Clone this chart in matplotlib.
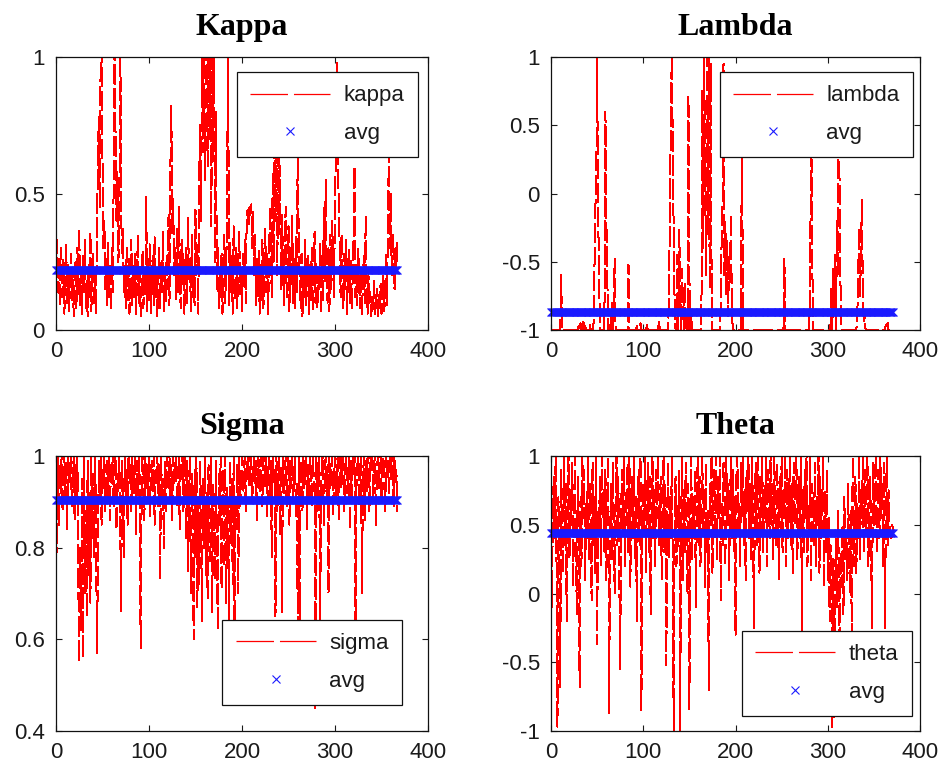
import numpy as np
import matplotlib
matplotlib.use("Agg")
import matplotlib.pyplot as plt

plt.rcParams["font.family"] = ["Liberation Sans", "DejaVu Sans"]
plt.rcParams["lines.scale_dashes"] = False

# Parameter traces, in hundredths of a unit, one value per iteration
kappa = [
    22, 33, 14, 27, 9, 30, 18, 12, 26, 6, 20, 31, 10, 24, 7, 16, 28, 11, 22, 5,
    19, 25, 8, 30, 13, 37, 9, 21, 6, 27, 14, 33, 8, 18, 5, 24, 12, 36, 7, 20,
    28, 10, 22, 6, 35, 60, 78, 45, 100, 120, 62, 30, 40, 15, 26, 9, 32, 12, 24, 7,
    30, 14, 55, 120, 72, 40, 58, 25, 33, 120, 44, 28, 37, 14, 22, 8, 30, 11, 26, 6,
    19, 33, 9, 24, 12, 28, 6, 18, 35, 10, 23, 5, 16, 29, 8, 21, 13, 49, 7, 26,
    11, 32, 6, 20, 27, 9, 34, 12, 22, 5, 18, 30, 8, 25, 14, 36, 7, 21, 10, 28,
    15, 42, 9, 60, 82, 35, 48, 20, 30, 11, 38, 14, 45, 24, 8, 33, 17, 28, 6, 22,
    30, 10, 41, 18, 26, 7, 35, 12, 23, 9, 44, 20, 31, 6, 58, 75, 40, 110, 65, 120,
    55, 95, 120, 60, 105, 70, 120, 38, 110, 62, 120, 25, 80, 15, 30, 8, 22, 12, 28, 6,
    18, 35, 10, 24, 40, 120, 9, 32, 14, 27, 6, 38, 20, 11, 30, 8, 25, 36, 13, 22,
    7, 28, 16, 33, 10, 40, 44, 38, 45, 42, 46, 30, 44, 20, 35, 9, 26, 12, 30, 6,
    24, 11, 33, 8, 19, 37, 14, 28, 6, 22, 45, 30, 12, 58, 25, 80, 40, 65, 20, 85,
    35, 60, 15, 42, 28, 9, 33, 45, 12, 24, 38, 7, 30, 16, 42, 10, 26, 8, 34, 14,
    75, 30, 20, 8, 28, 5, 22, 12, 33, 9, 18, 27, 6, 24, 11, 30, 7, 19, 36, 10,
    25, 8, 20, 14, 32, 6, 27, 11, 45, 18, 55, 24, 10, 30, 7, 35, 15, 40, 22, 12,
    50, 62, 98, 60, 48, 30, 12, 35, 20, 8, 28, 14, 33, 6, 22, 30, 10, 26, 8, 19,
    34, 60, 12, 24, 9, 30, 16, 8, 22, 5, 18, 27, 10, 42, 15, 6, 20, 9, 14, 5,
    12, 7, 18, 6, 10, 15, 5, 13, 8, 17, 6, 11, 20, 7, 14, 28, 9, 45, 65, 30,
    50, 20, 35, 28, 15, 30, 22, 33,
]

lambda_ = [
    -100, -100, -100, -100, -100, -100, -100, -100, -100, -100, -100, -60, -100, -100, -100, -100, -100, -100, -100, -100,
    -100, -100, -100, -100, -100, -100, -100, -100, -100, -100, -97, -100, -95, -100, -100, -93, -100, -97, -100, -100,
    -100, -100, -96, -100, -100, -100, -98, -60, -10, 0, 100, -15, -50, -100, -100, -100, -100, -100, -80, 60,
    -20, -60, -100, -100, -96, -100, -80, -100, -80, -48, -100, -100, -100, -100, -100, -100, -100, -100, -100, -100,
    -100, -100, -100, -100, -52, -100, -100, -100, -100, -100, -100, -100, -100, -97, -100, -100, -100, -95, -100, -100,
    -100, -100, -100, -100, -96, -100, -100, -100, -100, -100, -100, -100, -100, -100, -100, -100, -100, -94, -100, -100,
    -100, -100, -100, -100, -100, -100, -100, -100, -60, -20, 70, 100, 35, -30, -80, -100, -100, -45, -100, -27,
    -70, -100, -55, -80, -100, -65, -100, -90, -100, 72, -60, -100, -85, -100, -100, -100, -100, -100, -100, -100,
    -100, -100, -100, -100, 75, -40, 100, 20, -60, 100, -30, 100, -70, 95, -50, -100, -100, -100, -100, -100,
    -100, -100, -100, -100, -85, -30, -5, 95, -60, -20, -75, -35, -90, -45, -65, -15, -80, -100, -100, -100,
    -100, -100, -100, -100, -100, -100, -100, 80, -100, -100, -100, -100, -100, -100, -100, -100, -100, -100, -100, -100,
    -100, -100, -100, -100, -100, -100, -100, -100, -100, -100, -100, -100, -100, -100, -100, -100, -100, -100, -100, -100,
    -100, -100, -100, -100, -100, -100, -100, -100, -100, -100, -100, -100, -100, -48, -100, -100, -100, -100, -100, -100,
    -100, -100, -100, -100, -100, -100, -100, -100, -100, -100, -100, -100, -100, -100, -100, -100, -100, -100, -100, -100,
    -100, -55, 60, -30, -100, -100, -100, -100, -100, -100, -100, -100, -100, -100, -100, -100, -100, -100, -100, -100,
    -100, -100, -100, -96, -70, -100, -55, -85, -45, -100, -20, -60, 70, -10, -80, -100, -100, -100, -100, -100,
    -100, -100, -100, -100, -100, -100, -100, -100, -100, -100, -100, -100, -90, -60, -25, -75, -45, -5, -70, -95,
    -85, -100, -100, -100, -100, -100, -100, -100, -100, -100, -100, -100, -100, -100, -100, -100, -100, -100, -100, -100,
    -100, -100, -100, -96, -97, -95, -100, -100, -100, -100, -100, -100,
]

sigma = [
    60, 95, 100, 85, 98, 92, 100, 88, 96, 100, 90, 99, 84, 100, 94, 97, 100, 89, 93, 100,
    86, 98, 91, 100, 72, 55, 80, 62, 95, 56, 100, 70, 88, 65, 99, 74, 92, 68, 100, 82,
    96, 78, 100, 87, 57, 75, 99, 90, 100, 85, 97, 93, 100, 88, 95, 99, 91, 100, 86, 98,
    94, 100, 89, 97, 100, 84, 96, 92, 100, 87, 66, 99, 93, 78, 100, 90, 97, 85, 100, 94,
    98, 88, 100, 92, 96, 100, 83, 99, 91, 100, 95, 58, 89, 100, 97, 86, 100, 93, 98, 90,
    100, 87, 96, 99, 92, 100, 85, 97, 94, 100, 89, 98, 73, 100, 91, 95, 80, 99, 88, 100,
    96, 93, 100, 90, 98, 86, 100, 94, 97, 100, 89, 92, 100, 84, 98, 95, 100, 88, 96, 100,
    82, 99, 75, 93, 100, 70, 96, 88, 60, 97, 78, 100, 67, 91, 72, 99, 85, 64, 95, 80,
    100, 74, 92, 69, 98, 83, 77, 100, 66, 94, 88, 73, 99, 79, 62, 96, 85, 100, 71, 90,
    97, 76, 100, 68, 93, 87, 63, 99, 81, 95, 72, 100, 58, 91, 84, 98, 70, 100, 89, 94,
    100, 92, 97, 100, 88, 99, 95, 100, 93, 98, 100, 90, 96, 100, 94, 99, 86, 100, 97, 92,
    100, 95, 89, 100, 98, 93, 100, 87, 96, 100, 91, 99, 78, 100, 94, 97, 65, 100, 88, 95,
    100, 83, 98, 66, 100, 92, 96, 100, 89, 97, 100, 85, 99, 93, 100, 90, 96, 100, 87, 94,
    60, 100, 62, 95, 99, 88, 100, 93, 97, 100, 84, 98, 91, 100, 95, 89, 100, 96, 92, 45,
    100, 88, 97, 100, 60, 94, 99, 100, 85, 96, 100, 91, 98, 70, 100, 93, 97, 100, 87, 95,
    100, 90, 98, 100, 86, 96, 100, 93, 99, 100, 88, 97, 100, 92, 95, 100, 84, 99, 91, 100,
    96, 100, 60, 93, 98, 100, 89, 97, 100, 70, 94, 100, 86, 99, 92, 100, 95, 88, 100, 97,
    100, 91, 98, 100, 85, 96, 100, 93, 99, 100, 90, 97, 100, 94, 88, 100, 96, 99, 92, 100,
    95, 100, 98, 89, 100, 94, 97, 88,
]

theta = [
    30, -10, 60, 85, 40, 100, 20, -97, 70, 45, -68, 90, 55, 15, 100, 35, 80, -20, 65, 100,
    25, 75, 50, 95, 5, 60, 100, 30, -15, 85, 45, -68, 70, 20, 100, 55, 90, 10, 65, 40,
    100, 25, 80, 50, -5, 95, 35, 70, 15, 100, -37, 60, 45, 85, 20, 100, 55, 75, 30, 90,
    10, 65, 100, -87, 40, 80, 25, 95, 55, 0, 70, 100, 35, 85, 15, -55, 60, 90, 45, 100,
    20, 75, 50, 95, 30, 100, 5, 65, 85, 40, 100, 25, 70, -20, 55, 90, 35, 100, -85, 60,
    80, 45, 100, 15, 70, 95, 30, 85, -15, 60, 100, 40, 75, 20, 90, 55, 100, 35, 65, 85,
    10, 50, 100, 30, 80, -52, 60, 95, 25, 70, 40, 100, 15, -100, 55, 85, 20, 65, 35, 90,
    -100, 45, 100, 10, 75, 30, 95, 50, 0, 80, -85, 60, 100, 25, 70, 40, 90, -10, 55, 100,
    35, 85, 20, 65, 100, 45, 75, 5, 95, 30, 60, -70, 80, 50, 100, 15, 70, 90, 40, 100,
    25, 85, 55, 100, -5, 65, 35, 95, 75, 20, 100, 50, 80, 10, 60, 100, 40, 90, 30, 70,
    -30, 85, 100, 45, 65, 20, 95, 55, 100, 35, 75, 10, 90, 60, 100, 40, 80, 25, 100, 50,
    -25, 70, 95, 35, 100, 60, 15, 85, 45, 100, 30, 75, 55, 100, 20, 90, 65, 40, 100, 50,
    80, 25, 100, 60, 35, 95, 70, 10, 85, 45, 100, 30, 75, 55, 100, 20, 90, 40, 65, 100,
    35, 80, 15, 95, 50, 70, 100, 25, 60, 85, 40, 100, -40, 75, 30, 90, 55, 100, 20, 65,
    45, 100, 10, 80, 60, 35, 95, 20, 70, 50, 100, 15, 85, 40, 65, 100, 5, 75, 30, 90,
    10, 55, -20, 35, 0, -97, 25, -90, 15, 40, -10, 60, 20, -50, 30, 5, 50, -15, 70, 25,
    45, 10, 80, 35, 0, 60, -30, 100, 20, 50, 85, 15, 65, 40, 100, 25, 75, 55, 100, 30,
    90, 45, 70, 100, 20, 60, 85, 35, -25, 95, 50, 75, 100, 30, 65, 90, 40, 100, 55, 80,
    20, 95, -25, 60, 100, 35, 75, 50, 45, 40, 50, 44,
]

# Running averages shown as the blue cross line
kappa_avg = 0.22
lambda_avg = -0.87
sigma_avg = 0.905
theta_avg = 0.44

titles = ["Kappa", "Lambda", "Sigma", "Theta"]
series_names = ["kappa", "lambda", "sigma", "theta"]

x_ticks = [0, 100, 200, 300, 400]
x_tick_labels = ["0", "100", "200", "300", "400"]
kappa_ticks = [0, 0.5, 1]
kappa_tick_labels = ["0", "0.5", "1"]
unit_ticks = [-1, -0.5, 0, 0.5, 1]
unit_tick_labels = ["-1", "-0.5", "0", "0.5", "1"]
sigma_ticks = [0.4, 0.6, 0.8, 1]
sigma_tick_labels = ["0.4", "0.6", "0.8", "1"]

W, H = 949, 769
fig = plt.figure(figsize=(W / 100, H / 100), dpi=100)
fig.patch.set_facecolor("white")


def px_rect(left, top, right, bottom):
    return [left / W, (H - bottom) / H, (right - left) / W, (bottom - top) / H]


panels = [
    dict(rect=px_rect(56, 57, 428, 330), vals=kappa, avg=kappa_avg, ylim=(0, 1),
         yt=kappa_ticks, ytl=kappa_tick_labels, loc="upper right", anchor=(0.973, 0.945)),
    dict(rect=px_rect(551, 57, 920, 330), vals=lambda_, avg=lambda_avg, ylim=(-1, 1),
         yt=unit_ticks, ytl=unit_tick_labels, loc="upper right", anchor=(0.981, 0.945)),
    dict(rect=px_rect(56, 456, 428, 731), vals=sigma, avg=sigma_avg, ylim=(0.4, 1),
         yt=sigma_ticks, ytl=sigma_tick_labels, loc="lower right", anchor=(0.930, 0.095)),
    dict(rect=px_rect(551, 456, 920, 731), vals=theta, avg=theta_avg, ylim=(-1, 1),
         yt=unit_ticks, ytl=unit_tick_labels, loc="lower right", anchor=(0.978, 0.055)),
]

for title, name, p in zip(titles, series_names, panels):
    ax = fig.add_axes(p["rect"])
    vals = np.asarray(p["vals"], dtype=float) / 100.0
    xs = np.arange(len(vals))
    ax.plot(xs, vals, color=(1, 0, 0), lw=0.9, linestyle=(0, (14, 3)),
            antialiased=False, label=name)
    ax.plot(xs, np.full(len(xs), p["avg"]), linestyle="none", marker="x", ms=5.5,
            mew=0.8, color=(0.1, 0.1, 1.0), label="avg", clip_on=False)

    ax.set_xlim(0, 400)
    ax.set_ylim(*p["ylim"])
    ax.set_xticks(x_ticks)
    ax.set_xticklabels(x_tick_labels)
    ax.set_yticks(p["yt"])
    ax.set_yticklabels(p["ytl"])
    ax.tick_params(direction="in", length=4, width=0.8, top=True, right=True,
                   labelsize=16, colors="#1a1a1a", pad=8)
    ax.tick_params(axis="x", pad=8)
    for s in ax.spines.values():
        s.set_linewidth(0.9)
        s.set_color("#111111")

    ax.set_title(title, fontfamily="Liberation Serif", fontweight="bold",
                 fontsize=23, pad=16)

    leg = ax.legend(loc=p["loc"], bbox_to_anchor=p["anchor"], borderaxespad=0,
                    fontsize=16, numpoints=1, handlelength=3.6, handletextpad=0.6,
                    borderpad=0.6, labelspacing=0.75, fancybox=False,
                    framealpha=1, edgecolor="#111111")
    leg.get_frame().set_linewidth(0.9)
    leg.get_lines()[0].set_linestyle((0, (27, 4.3)))
    for t in leg.get_texts():
        t.set_color("#1a1a1a")

fig.savefig("out.png", dpi=100)
